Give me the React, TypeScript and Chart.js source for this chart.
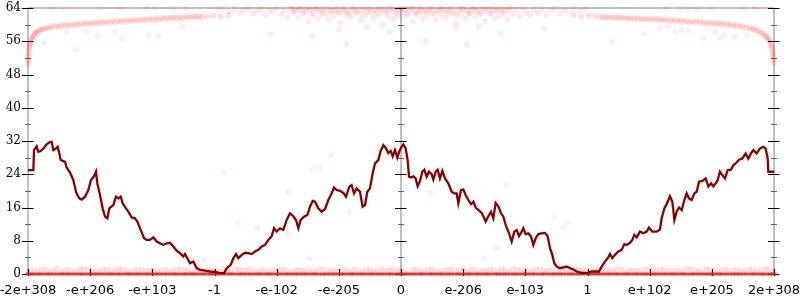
import React, { useEffect, useRef } from "react";
import { Chart, registerables } from "chart.js";
Chart.register(...registerables);

const xTickValues = [-6, -5, -4, -3, -2, -1, 0, 1, 2, 3, 4, 5, 6];
const xTickLabels = ["-2e+308", "-e+206", "-e+103", "-1", "-e-102", "-e-205", "0", "e-206", "e-103", "1", "e+102", "e+205", "2e+308"];
const yMajorTicks = [0, 8, 16, 24, 32, 40, 48, 56, 64];
const yMinorTicks = [4, 12, 20, 28, 36, 44, 52, 60];
const axisPositions = [-6, 0, 6];

// averaged error line
const avgLine: [number, number][] = [
  [-6.0, 25.0], [-5.914, 25.0], [-5.903, 29.8], [-5.861, 30.7], [-5.834, 29.4], [-5.796, 29.6], [-5.753, 30.2], [-5.7, 31.2], [-5.657, 31.7], [-5.619, 31.8],
  [-5.592, 29.8], [-5.55, 30.2], [-5.523, 30.6], [-5.496, 29.0], [-5.475, 27.5], [-5.442, 27.2], [-5.405, 27.0], [-5.378, 25.6], [-5.324, 24.4], [-5.271, 22.6],
  [-5.228, 19.8], [-5.206, 19.0], [-5.174, 18.2], [-5.137, 17.9], [-5.083, 18.6], [-5.029, 20.2], [-4.987, 22.6], [-4.938, 23.5], [-4.906, 24.6], [-4.885, 21.8],
  [-4.842, 19.0], [-4.799, 15.8], [-4.761, 13.8], [-4.724, 13.4], [-4.692, 15.8], [-4.627, 16.6], [-4.584, 18.6], [-4.547, 18.2], [-4.509, 18.6], [-4.477, 17.0],
  [-4.424, 15.8], [-4.386, 15.0], [-4.332, 13.6], [-4.279, 13.4], [-4.241, 12.6], [-4.188, 10.6], [-4.134, 8.6], [-4.091, 8.2], [-4.038, 8.2], [-3.984, 8.8],
  [-3.93, 7.8], [-3.877, 7.4], [-3.823, 7.0], [-3.769, 7.4], [-3.716, 7.5], [-3.662, 6.6], [-3.609, 5.6], [-3.555, 5.0], [-3.501, 4.2], [-3.475, 4.8],
  [-3.437, 3.8], [-3.394, 2.6], [-3.34, 3.0], [-3.287, 1.4], [-3.233, 1.0], [-3.153, 0.8], [-3.072, 0.6], [-2.992, 0.5], [-2.912, 0.2], [-2.847, 0.2],
  [-2.804, 1.4], [-2.74, 2.2], [-2.697, 3.8], [-2.654, 4.8], [-2.617, 3.8], [-2.563, 4.6], [-2.509, 5.1], [-2.456, 5.0], [-2.402, 4.8], [-2.349, 5.4],
  [-2.295, 5.8], [-2.241, 6.6], [-2.188, 7.0], [-2.134, 8.2], [-2.08, 9.1], [-2.043, 11.0], [-2.0, 10.2], [-1.946, 11.0], [-1.893, 10.6], [-1.839, 13.0],
  [-1.786, 14.6], [-1.732, 13.9], [-1.689, 13.0], [-1.651, 11.0], [-1.614, 13.0], [-1.56, 13.8], [-1.507, 14.2], [-1.464, 16.2], [-1.421, 17.6], [-1.383, 17.4],
  [-1.33, 15.8], [-1.276, 15.0], [-1.223, 15.6], [-1.169, 17.8], [-1.115, 19.4], [-1.078, 20.8], [-1.035, 20.2], [-0.981, 20.0], [-0.928, 19.5], [-0.885, 18.6],
  [-0.831, 21.0], [-0.794, 21.4], [-0.756, 19.4], [-0.713, 20.6], [-0.66, 19.8], [-0.617, 16.2], [-0.579, 16.6], [-0.542, 19.8], [-0.499, 20.6], [-0.456, 24.2],
  [-0.418, 26.6], [-0.365, 27.4], [-0.327, 29.6], [-0.284, 31.0], [-0.241, 30.2], [-0.204, 29.1], [-0.166, 29.6], [-0.134, 28.3], [-0.097, 29.8], [-0.059, 28.0],
  [-0.03, 29.4], [0.01, 30.6], [0.038, 31.2], [0.075, 30.2], [0.107, 27.4], [0.129, 23.4], [0.161, 23.2], [0.198, 23.5], [0.236, 23.0], [0.268, 21.1],
  [0.306, 22.4], [0.343, 24.6], [0.375, 25.1], [0.413, 23.4], [0.45, 24.6], [0.493, 24.0], [0.52, 22.7], [0.558, 24.6], [0.59, 25.1], [0.627, 23.0],
  [0.665, 24.8], [0.708, 23.0], [0.761, 21.8], [0.815, 19.8], [0.858, 19.4], [0.895, 19.4], [0.922, 17.0], [0.965, 20.2], [1.003, 20.3], [1.04, 19.0],
  [1.083, 17.8], [1.126, 16.8], [1.164, 17.4], [1.201, 16.0], [1.244, 15.4], [1.298, 14.7], [1.324, 13.9], [1.362, 12.6], [1.405, 13.9], [1.448, 15.0],
  [1.485, 13.4], [1.523, 17.1], [1.566, 16.3], [1.609, 14.6], [1.646, 13.8], [1.684, 11.8], [1.737, 9.8], [1.78, 7.8], [1.823, 10.2], [1.861, 10.6],
  [1.898, 9.1], [1.941, 10.2], [1.968, 11.0], [2.005, 9.6], [2.048, 9.8], [2.091, 9.0], [2.129, 7.0], [2.166, 8.6], [2.209, 9.6], [2.263, 9.8],
  [2.316, 9.9], [2.359, 9.1], [2.397, 6.2], [2.434, 4.6], [2.466, 2.6], [2.504, 1.8], [2.558, 1.4], [2.611, 1.6], [2.665, 1.8], [2.718, 1.4],
  [2.772, 1.1], [2.826, 0.6], [2.906, 0.3], [2.987, 0.2], [3.067, 0.6], [3.147, 0.6], [3.185, 0.6], [3.228, 1.8], [3.282, 3.0], [3.335, 4.0],
  [3.362, 4.8], [3.399, 3.8], [3.442, 4.6], [3.496, 5.4], [3.55, 5.8], [3.592, 7.2], [3.63, 7.0], [3.684, 7.5], [3.721, 8.2], [3.753, 9.4],
  [3.791, 8.8], [3.845, 10.2], [3.898, 9.8], [3.952, 10.2], [3.989, 11.2], [4.043, 10.2], [4.113, 10.2], [4.166, 10.7], [4.193, 13.4], [4.236, 15.8],
  [4.273, 16.8], [4.327, 18.7], [4.365, 17.4], [4.397, 13.0], [4.434, 15.0], [4.472, 16.0], [4.515, 15.4], [4.558, 17.8], [4.595, 19.4], [4.633, 18.2],
  [4.676, 17.8], [4.718, 19.4], [4.756, 19.8], [4.794, 22.2], [4.847, 22.4], [4.901, 23.0], [4.944, 21.0], [4.987, 21.8], [5.024, 21.1], [5.062, 21.8],
  [5.094, 22.6], [5.131, 24.6], [5.169, 23.8], [5.212, 23.0], [5.255, 25.0], [5.308, 25.1], [5.346, 26.2], [5.383, 26.6], [5.437, 27.5], [5.491, 27.8],
  [5.544, 29.0], [5.587, 27.8], [5.63, 29.0], [5.668, 29.8], [5.721, 29.0], [5.775, 30.2], [5.828, 30.6], [5.866, 30.2], [5.898, 27.8], [5.909, 24.6],
  [6.0, 24.6],
];

// sampled points: curve near the top on the left
const topLeftCurve: [number, number][] = [
  [-6.0, 50.5], [-5.997, 51.4], [-5.994, 52.2], [-5.99, 53.0], [-5.985, 53.8], [-5.98, 54.5], [-5.972, 55.1], [-5.963, 55.6], [-5.952, 56.1], [-5.94, 56.6],
  [-5.925, 57.0], [-5.91, 57.4], [-5.89, 57.8], [-5.87, 58.1], [-5.845, 58.3], [-5.82, 58.6], [-5.79, 58.8], [-5.76, 58.9], [-5.72, 59.1], [-5.68, 59.2],
  [-5.64, 59.4], [-5.6, 59.5], [-5.55, 59.7], [-5.5, 59.5], [-5.45, 59.9], [-5.4, 59.7], [-5.35, 60.0], [-5.3, 59.8], [-5.25, 60.2], [-5.2, 60.0],
  [-5.15, 60.3], [-5.1, 60.1], [-5.05, 60.4], [-5.0, 60.2], [-4.95, 60.5], [-4.9, 60.3], [-4.85, 60.6], [-4.8, 60.4], [-4.75, 60.7], [-4.7, 60.5],
  [-4.65, 60.8], [-4.6, 60.6], [-4.55, 60.9], [-4.5, 60.7], [-4.45, 61.0], [-4.4, 60.8], [-4.35, 61.1], [-4.3, 60.9], [-4.25, 61.2], [-4.2, 61.0],
  [-4.15, 61.3], [-4.1, 61.1], [-4.05, 61.4], [-4.0, 61.2], [-3.95, 61.5], [-3.9, 61.3], [-3.85, 61.6], [-3.8, 61.4], [-3.75, 61.7], [-3.7, 61.5],
  [-3.65, 61.8], [-3.6, 61.6], [-3.55, 61.8], [-3.5, 61.6], [-3.45, 61.9], [-3.4, 61.7], [-3.35, 62.0], [-3.3, 61.8], [-3.25, 62.0], [-3.2, 61.8],
  [-3.12, 62.0], [-3.02, 62.2], [-2.9, 62.0], [-2.78, 62.3],
];

const topRightCurve: [number, number][] = [
  [2.78, 62.3], [2.9, 62.0], [3.02, 62.2], [3.12, 62.0],
  [3.2, 61.9], [3.25, 61.7], [3.3, 61.9], [3.35, 61.6], [3.4, 61.8], [3.45, 61.6], [3.5, 61.8], [3.55, 61.5], [3.6, 61.7], [3.65, 61.5],
  [3.7, 61.6], [3.75, 61.4], [3.8, 61.6], [3.85, 61.3], [3.9, 61.5], [3.95, 61.3], [4.0, 61.4], [4.05, 61.2], [4.1, 61.4], [4.15, 61.1],
  [4.2, 61.3], [4.25, 61.0], [4.3, 61.2], [4.35, 60.9], [4.4, 61.1], [4.45, 60.8], [4.5, 61.0], [4.55, 60.7], [4.6, 60.9], [4.65, 60.6],
  [4.7, 60.8], [4.75, 60.5], [4.8, 60.7], [4.85, 60.4], [4.9, 60.6], [4.95, 60.3], [5.0, 60.5], [5.05, 60.2], [5.1, 60.4], [5.15, 60.1],
  [5.2, 60.3], [5.25, 59.9], [5.3, 60.1], [5.35, 59.7], [5.4, 59.9], [5.45, 59.5], [5.5, 59.6], [5.55, 59.2], [5.6, 59.3], [5.64, 58.9],
  [5.68, 59.0], [5.72, 58.5], [5.76, 58.4], [5.8, 57.9], [5.83, 57.8], [5.86, 57.3], [5.88, 57.1], [5.9, 56.7], [5.92, 56.3], [5.935, 55.9],
  [5.95, 55.3], [5.96, 54.8], [5.97, 54.2], [5.98, 53.5], [5.985, 52.8], [5.99, 52.2], [5.995, 51.5], [6.0, 50.7],
];

// sampled points near 64 in the middle
const topCenter: [number, number][] = [
  [-2.95, 63.6], [-2.85, 63.9], [-2.76, 63.2], [-2.68, 63.8], [-2.6, 62.9], [-2.52, 63.5], [-2.45, 63.9], [-2.38, 62.6], [-2.31, 63.4], [-2.25, 63.8],
  [-2.18, 62.2], [-2.12, 63.6], [-2.06, 63.1], [-2.0, 63.9], [-1.94, 62.4], [-1.88, 63.3], [-1.83, 61.7], [-1.78, 63.8],
  [-1.73, 62.9], [-1.69, 63.5], [-1.65, 61.9], [-1.61, 63.9], [-1.57, 62.6], [-1.53, 63.2], [-1.49, 60.8], [-1.45, 63.7], [-1.41, 62.3], [-1.37, 63.9],
  [-1.33, 61.5], [-1.29, 63.0], [-1.25, 62.7], [-1.21, 63.8], [-1.17, 61.2], [-1.13, 63.4], [-1.09, 62.1], [-1.05, 63.9], [-1.01, 62.8], [-0.97, 60.4],
  [-0.93, 63.6], [-0.89, 62.4], [-0.85, 63.1], [-0.81, 61.8], [-0.77, 63.9], [-0.73, 62.6], [-0.69, 63.3], [-0.65, 61.0], [-0.61, 63.7], [-0.57, 62.2],
  [-0.53, 63.9], [-0.49, 62.9], [-0.45, 61.6], [-0.41, 63.5], [-0.37, 62.5], [-0.33, 63.9], [-0.29, 59.9], [-0.25, 63.2], [-0.21, 62.0], [-0.17, 63.8],
  [-0.13, 61.3], [-0.09, 63.4], [-0.05, 62.7], [-0.01, 63.9], [0.03, 61.9], [0.07, 63.6], [0.11, 62.4], [0.15, 63.9], [0.19, 60.7], [0.23, 63.1],
  [0.27, 62.6], [0.31, 63.8], [0.35, 61.4], [0.39, 63.3], [0.43, 62.1], [0.47, 63.9], [0.51, 62.8], [0.55, 61.1], [0.59, 63.5], [0.63, 62.3],
  [0.67, 63.9], [0.71, 61.7], [0.75, 63.2], [0.79, 62.5], [0.83, 63.8], [0.87, 60.3], [0.91, 63.0], [0.95, 62.2], [0.99, 63.7], [1.03, 61.5],
  [1.07, 63.4], [1.11, 62.7], [1.15, 63.9], [1.19, 61.9], [1.23, 63.1], [1.27, 62.4], [1.31, 63.8], [1.35, 60.9], [1.39, 63.5], [1.43, 62.6],
  [1.47, 63.9], [1.51, 61.6], [1.55, 63.3], [1.59, 62.0], [1.63, 63.7], [1.67, 62.8], [1.71, 61.3], [1.75, 63.9],
  [1.8, 62.5], [1.85, 63.6], [1.9, 62.1], [1.96, 63.9], [2.02, 63.0], [2.08, 62.4], [2.14, 63.7], [2.2, 62.8], [2.27, 63.9], [2.34, 62.3],
  [2.41, 63.5], [2.48, 63.9], [2.55, 62.7], [2.62, 63.6], [2.7, 63.1], [2.78, 63.9], [2.87, 63.3], [2.96, 63.8],
  [-1.42, 57.3], [-0.88, 55.2], [-0.18, 58.2], [0.4, 56.1], [1.06, 55.2], [-2.1, 57.6], [1.6, 57.9], [2.3, 59.0], [-1.0, 58.8], [0.9, 59.3],
  [-0.55, 59.5], [1.25, 59.6],
];

// more sampled points hugging 64 in the middle
const topCenterDense: [number, number][] = [
  [-1.76, 63.9], [-1.7, 63.4], [-1.64, 63.8], [-1.58, 63.1], [-1.52, 63.9], [-1.47, 63.5], [-1.42, 62.8], [-1.36, 63.9], [-1.31, 63.3], [-1.26, 63.7],
  [-1.2, 62.5], [-1.15, 63.9], [-1.1, 63.2], [-1.04, 63.6], [-0.99, 62.9], [-0.94, 63.9], [-0.89, 63.4], [-0.84, 62.7], [-0.79, 63.8], [-0.74, 63.1],
  [-0.69, 63.9], [-0.64, 62.4], [-0.6, 63.6], [-0.55, 63.0], [-0.5, 63.8], [-0.45, 63.3], [-0.4, 62.6], [-0.36, 63.9], [-0.31, 63.2], [-0.27, 63.7],
  [-0.22, 62.9], [-0.18, 63.9], [-0.13, 63.4], [-0.08, 62.2], [-0.04, 63.8], [0.01, 63.1], [0.05, 63.9], [0.1, 62.7], [0.14, 63.5], [0.19, 63.9],
  [0.23, 62.4], [0.28, 63.2], [0.32, 63.9], [0.37, 62.9], [0.41, 63.6], [0.46, 63.1], [0.5, 63.9], [0.55, 62.6], [0.6, 63.4], [0.65, 63.9],
  [0.7, 62.8], [0.74, 63.5], [0.79, 63.9], [0.84, 63.0], [0.89, 62.3], [0.94, 63.7], [0.99, 63.9], [1.04, 63.2], [1.09, 62.6], [1.14, 63.8],
  [1.19, 63.3], [1.24, 63.9], [1.29, 62.9], [1.34, 63.5], [1.4, 63.9], [1.45, 62.7], [1.5, 63.4], [1.56, 63.9], [1.62, 63.0], [1.68, 63.6],
  [1.74, 63.9],
];

// stray sampled points
const strayPoints: [number, number][] = [
  [-5.74, 55.7], [-5.23, 53.9], [-5.06, 58.3], [-4.88, 57.3], [-4.6, 58.2], [-4.49, 56.7], [-4.06, 57.5], [-3.9, 57.3], [-5.38, 58.3], [-3.55, 60.8],
  [-3.51, 59.6], [-5.62, 63.9], [-5.43, 63.9], [-4.84, 63.9], [-4.52, 63.9], [-4.09, 63.9], [-3.96, 63.9], [-3.67, 63.9], [-3.47, 63.9],
  [3.39, 55.7], [3.92, 57.8], [4.17, 59.2], [4.3, 59.4], [4.41, 58.3], [4.51, 58.7], [4.62, 58.7], [4.86, 56.9], [5.05, 58.3], [5.13, 56.7],
  [5.2, 57.5], [5.37, 57.1], [5.56, 57.5], [4.27, 63.9], [4.49, 63.9], [4.62, 63.9], [4.76, 63.9], [5.0, 63.9], [5.51, 63.9], [5.69, 63.9],
  [-2.86, 24.3], [-1.82, 19.7], [-1.42, 25.3], [-1.3, 25.5], [-1.13, 28.6], [-0.83, 14.8], [-2.63, 12.3], [-2.32, 11.2], [-1.81, 9.8], [-1.47, 3.8],
  [-3.17, 3.5], [0.48, 19.4], [1.7, 21.4], [2.47, 13.6], [2.61, 11.2], [2.69, 12.2], [1.54, 6.2], [1.34, 3.8],
];

// samples with zero error
const zeroX = [
  -6.0, -5.93, -5.85, -5.78, -5.7, -5.63, -5.55, -5.47, -5.4, -5.33, -5.25, -5.17, -5.1, -5.02, -4.95, -4.88, -4.8, -4.72, -4.65, -4.57,
  -4.5, -4.42, -4.35, -4.27, -4.2, -4.12, -4.05, -3.97, -3.9, -3.82, -3.75, -3.67, -3.6, -3.52, -3.45, -3.37, -3.3, -3.22, -3.15, -3.07,
  -3.0, -2.92, -2.85, -2.77, -2.7, -2.62, -2.55, -2.47, -2.4, -2.32, -2.25, -2.17, -2.1, -2.02, -1.95, -1.87, -1.8, -1.72, -1.65, -1.57,
  -1.5, -1.42, -1.35, -1.27, -1.2, -1.12, -1.05, -0.97, -0.9, -0.82, -0.75, -0.67, -0.6, -0.52, -0.45, -0.37, -0.3, -0.22, -0.15, -0.07,
  0.0, 0.07, 0.15, 0.22, 0.3, 0.37, 0.45, 0.52, 0.6, 0.67, 0.75, 0.82, 0.9, 0.97, 1.05, 1.12, 1.2, 1.27, 1.35, 1.42,
  1.5, 1.57, 1.65, 1.72, 1.8, 1.87, 1.95, 2.02, 2.1, 2.17, 2.25, 2.32, 2.4, 2.47, 2.55, 2.62, 2.7, 2.77, 2.85, 2.92,
  3.0, 3.07, 3.15, 3.22, 3.3, 3.37, 3.45, 3.52, 3.6, 3.67, 3.75, 3.82, 3.9, 3.97, 4.05, 4.12, 4.2, 4.27, 4.35, 4.42,
  4.5, 4.57, 4.65, 4.72, 4.8, 4.88, 4.95, 5.02, 5.1, 5.17, 5.25, 5.33, 5.4, 5.47, 5.55, 5.63, 5.7, 5.78, 5.85, 5.93, 6.0,
];

// samples with small error (band just above zero)
const bandX = [
  -5.96, -5.84, -5.71, -5.6, -5.47, -5.35, -5.22, -5.1, -4.97, -4.85, -4.73, -4.6, -4.48, -4.36, -4.23, -4.1, -3.98, -3.86, -3.73, -3.61,
  -3.48, -3.36, -3.24, -3.11, -2.99, -2.86, -2.74, -2.61, -2.49, -2.36, -2.24, -2.12, -1.99, -1.87, -1.74, -1.62, -1.49, -1.37, -1.25, -1.12,
  -1.0, -0.87, -0.75, -0.62, -0.5, -0.38, -0.25, -0.13, 0.0, 0.12, 0.25, 0.37, 0.5, 0.62, 0.75, 0.87, 1.0, 1.12, 1.24, 1.37,
  1.49, 1.62, 1.74, 1.87, 1.99, 2.11, 2.24, 2.36, 2.49, 2.61, 2.74, 2.86, 2.99, 3.11, 3.23, 3.36, 3.48, 3.61, 3.73, 3.86,
  3.98, 4.1, 4.23, 4.35, 4.48, 4.6, 4.73, 4.85, 4.97, 5.1, 5.22, 5.35, 5.47, 5.6, 5.72, 5.85, 5.97,
];
const bandY = [
  0.9, 0.6, 1.1, 0.8, 0.5, 1.0, 0.7, 1.2, 0.9, 0.6, 1.0, 0.8, 1.1, 0.5, 0.9, 0.7, 1.2, 0.8, 0.6, 1.0,
  0.9, 0.5, 1.1, 0.7, 0.8, 1.0, 0.6, 1.2, 0.9, 0.7, 1.0, 0.5, 0.8, 1.1, 0.6, 0.9, 1.0, 0.7, 1.2, 0.8,
  0.5, 0.9, 1.1, 0.6, 1.0, 0.8, 0.7, 1.2, 0.9, 0.5, 1.0, 0.8, 1.1, 0.6, 0.9, 0.7, 1.2, 1.0, 0.5, 0.8,
  0.9, 1.1, 0.6, 1.0, 0.7, 0.8, 1.2, 0.9, 0.5, 1.0, 0.6, 1.1, 0.8, 0.9, 0.7, 1.0, 1.2, 0.5, 0.8, 0.9,
  1.1, 0.6, 1.0, 0.7, 0.9, 1.2, 0.8, 0.5, 1.0, 0.6, 1.1, 0.9, 0.7, 1.0, 0.8, 1.2, 0.9,
];
const band2X = [
  -5.9, -5.78, -5.65, -5.53, -5.41, -5.28, -5.16, -5.04, -4.91, -4.79, -4.67, -4.54, -4.42, -4.29, -4.17, -4.04, -3.92, -3.79, -3.67, -3.55,
  -3.42, -3.3, -3.17, -3.05, -2.92, -2.8, -2.67, -2.55, -2.43, -2.3, -2.18, -2.05, -1.93, -1.8, -1.68, -1.56, -1.43, -1.31, -1.18, -1.06,
  -0.94, -0.81, -0.69, -0.56, -0.44, -0.31, -0.19, -0.06, 0.06, 0.19, 0.31, 0.44, 0.56, 0.69, 0.81, 0.94, 1.06, 1.18, 1.31, 1.43,
  1.56, 1.68, 1.8, 1.93, 2.05, 2.18, 2.3, 2.43, 2.55, 2.67, 2.8, 2.92, 3.05, 3.17, 3.3, 3.42, 3.55, 3.67, 3.79, 3.92,
  4.04, 4.17, 4.29, 4.42, 4.54, 4.67, 4.79, 4.91, 5.04, 5.16, 5.28, 5.41, 5.53, 5.65, 5.78, 5.9,
];
const band2Y = [
  0.7, 1.0, 0.5, 1.2, 0.8, 0.6, 1.1, 0.9, 0.5, 1.0, 0.7, 1.2, 0.6, 0.9, 1.1, 0.8, 0.5, 1.0, 0.7, 1.2,
  0.9, 0.6, 0.8, 1.1, 0.5, 0.9, 1.0, 0.7, 1.2, 0.6, 0.8, 1.1, 0.9, 0.5, 1.0, 0.7, 0.6, 1.2, 0.8, 0.9,
  1.1, 0.5, 0.7, 1.0, 0.6, 1.2, 0.9, 0.8, 0.5, 1.1, 0.7, 1.0, 0.6, 0.9, 1.2, 0.8, 0.5, 1.1, 0.7, 1.0,
  0.6, 0.9, 1.2, 0.8, 0.5, 1.0, 0.7, 1.1, 0.6, 0.9, 1.2, 0.8, 0.5, 1.0, 0.7, 0.6, 1.1, 0.9, 0.8, 1.2,
  0.5, 1.0, 0.7, 0.9, 0.6, 1.1, 0.8, 1.2, 0.5, 1.0, 0.7, 0.9, 0.6, 1.1, 0.8, 1.0,
];

const pairs = (arr: [number, number][]) => arr.map(([x, y]) => ({ x, y }));
const zip = (xs: number[], ys: number[]) => xs.map((x, i) => ({ x, y: ys[i] }));

export default function App() {
  const ref = useRef<HTMLCanvasElement>(null);
  useEffect(() => {
    document.body.style.margin = "0";
    if (!ref.current) return;

    const axesPlugin = {
      id: "customAxes",
      beforeDatasetsDraw(chart: any) {
        const { ctx, chartArea: a, scales } = chart;
        const xs = scales.x;
        const ys = scales.y;
        ctx.save();
        ctx.strokeStyle = "#aaaaaa";
        ctx.lineWidth = 1.5;
        ctx.beginPath();
        ctx.moveTo(a.left, a.top);
        ctx.lineTo(a.right, a.top);
        ctx.moveTo(a.left, a.bottom);
        ctx.lineTo(a.right, a.bottom);
        for (const v of axisPositions) {
          const px = xs.getPixelForValue(v);
          ctx.moveTo(px, a.top);
          ctx.lineTo(px, a.bottom);
        }
        ctx.stroke();
        ctx.strokeStyle = "#666666";
        ctx.lineWidth = 1;
        ctx.beginPath();
        for (const v of axisPositions) {
          const px = xs.getPixelForValue(v);
          for (const t of yMinorTicks) {
            const py = Math.round(ys.getPixelForValue(t)) + 0.5;
            ctx.moveTo(px - 3, py);
            ctx.lineTo(px + 3, py);
          }
        }
        ctx.stroke();
        ctx.strokeStyle = "#000000";
        ctx.lineWidth = 1.2;
        ctx.beginPath();
        for (const v of axisPositions) {
          const px = xs.getPixelForValue(v);
          for (const t of yMajorTicks) {
            const py = Math.round(ys.getPixelForValue(t)) + 0.5;
            ctx.moveTo(px - 6, py);
            ctx.lineTo(px + 5.5, py);
          }
        }
        for (const v of xTickValues) {
          const px = Math.round(xs.getPixelForValue(v)) + 0.5;
          ctx.moveTo(px, a.bottom - 5);
          ctx.lineTo(px, a.bottom + 2);
        }
        ctx.stroke();
        ctx.restore();
      },
    };

    const dots = (color: string) => ({
      type: "scatter" as const,
      pointRadius: 3,
      pointHoverRadius: 3,
      pointBorderWidth: 0,
      backgroundColor: color,
      borderColor: color,
      showLine: false,
      clip: false as any,
      order: 1,
    });

    const chart = new Chart(ref.current, {
      type: "scatter",
      data: {
        datasets: [
          {
            label: "average",
            data: pairs(avgLine),
            showLine: true,
            borderColor: "#8b0000",
            backgroundColor: "#8b0000",
            borderWidth: 2.3,
            pointRadius: 0,
            tension: 0,
            order: 0,
          } as any,
          {
            label: "zero",
            data: zeroX.map((x) => ({ x, y: 0 })),
            ...dots("rgba(228,30,30,0.85)"),
            pointStyle: "line",
            pointRadius: 2.5,
            pointBorderWidth: 3,
            borderColor: "rgba(228,30,30,0.85)",
          } as any,
          { label: "band", data: zip(bandX, bandY), ...dots("rgba(255,0,0,0.1)") },
          { label: "band2", data: zip(band2X, band2Y), ...dots("rgba(255,0,0,0.1)") },
          { label: "topLeft", data: pairs(topLeftCurve), ...dots("rgba(255,0,0,0.13)") },
          { label: "topRight", data: pairs(topRightCurve), ...dots("rgba(255,0,0,0.13)") },
          { label: "topCenter", data: pairs(topCenter), ...dots("rgba(255,0,0,0.08)") },
          { label: "topCenterDense", data: pairs(topCenterDense), ...dots("rgba(255,0,0,0.08)") },
          { label: "stray", data: pairs(strayPoints), ...dots("rgba(255,0,0,0.06)") },
        ],
      },
      options: {
        animation: false,
        responsive: false,
        events: [],
        layout: { padding: { top: 8, right: 26, left: 0, bottom: 0 } },
        plugins: { legend: { display: false }, tooltip: { enabled: false } },
        scales: {
          x: {
            type: "linear",
            min: -6,
            max: 6,
            afterBuildTicks: (s: any) => {
              s.ticks = xTickValues.map((v) => ({ value: v }));
            },
            afterFit: (s: any) => {
              s.height = 26;
              s.paddingLeft = 0;
              s.paddingRight = 0;
            },
            ticks: {
              autoSkip: false,
              maxRotation: 0,
              minRotation: 0,
              padding: 9,
              color: "#000",
              font: { family: "DejaVu Sans", size: 13 },
              callback: (_v: any, i: number) => xTickLabels[i],
            },
            grid: { display: false, drawTicks: false },
            border: { display: false },
          },
          y: {
            type: "linear",
            min: 0,
            max: 64,
            afterBuildTicks: (s: any) => {
              s.ticks = yMajorTicks.map((v) => ({ value: v }));
            },
            afterFit: (s: any) => {
              s.width = 28;
              s.paddingTop = 0;
              s.paddingBottom = 0;
            },
            ticks: {
              padding: 7,
              color: "#000",
              font: { family: "DejaVu Serif", size: 12 },
            },
            grid: { display: false, drawTicks: false },
            border: { display: false },
          },
        },
      },
      plugins: [axesPlugin],
    });
    return () => chart.destroy();
  }, []);

  return (
    <div style={{ width: 800, height: 300 }}>
      <canvas ref={ref} width={800} height={300} style={{ display: "block" }} />
    </div>
  );
}
